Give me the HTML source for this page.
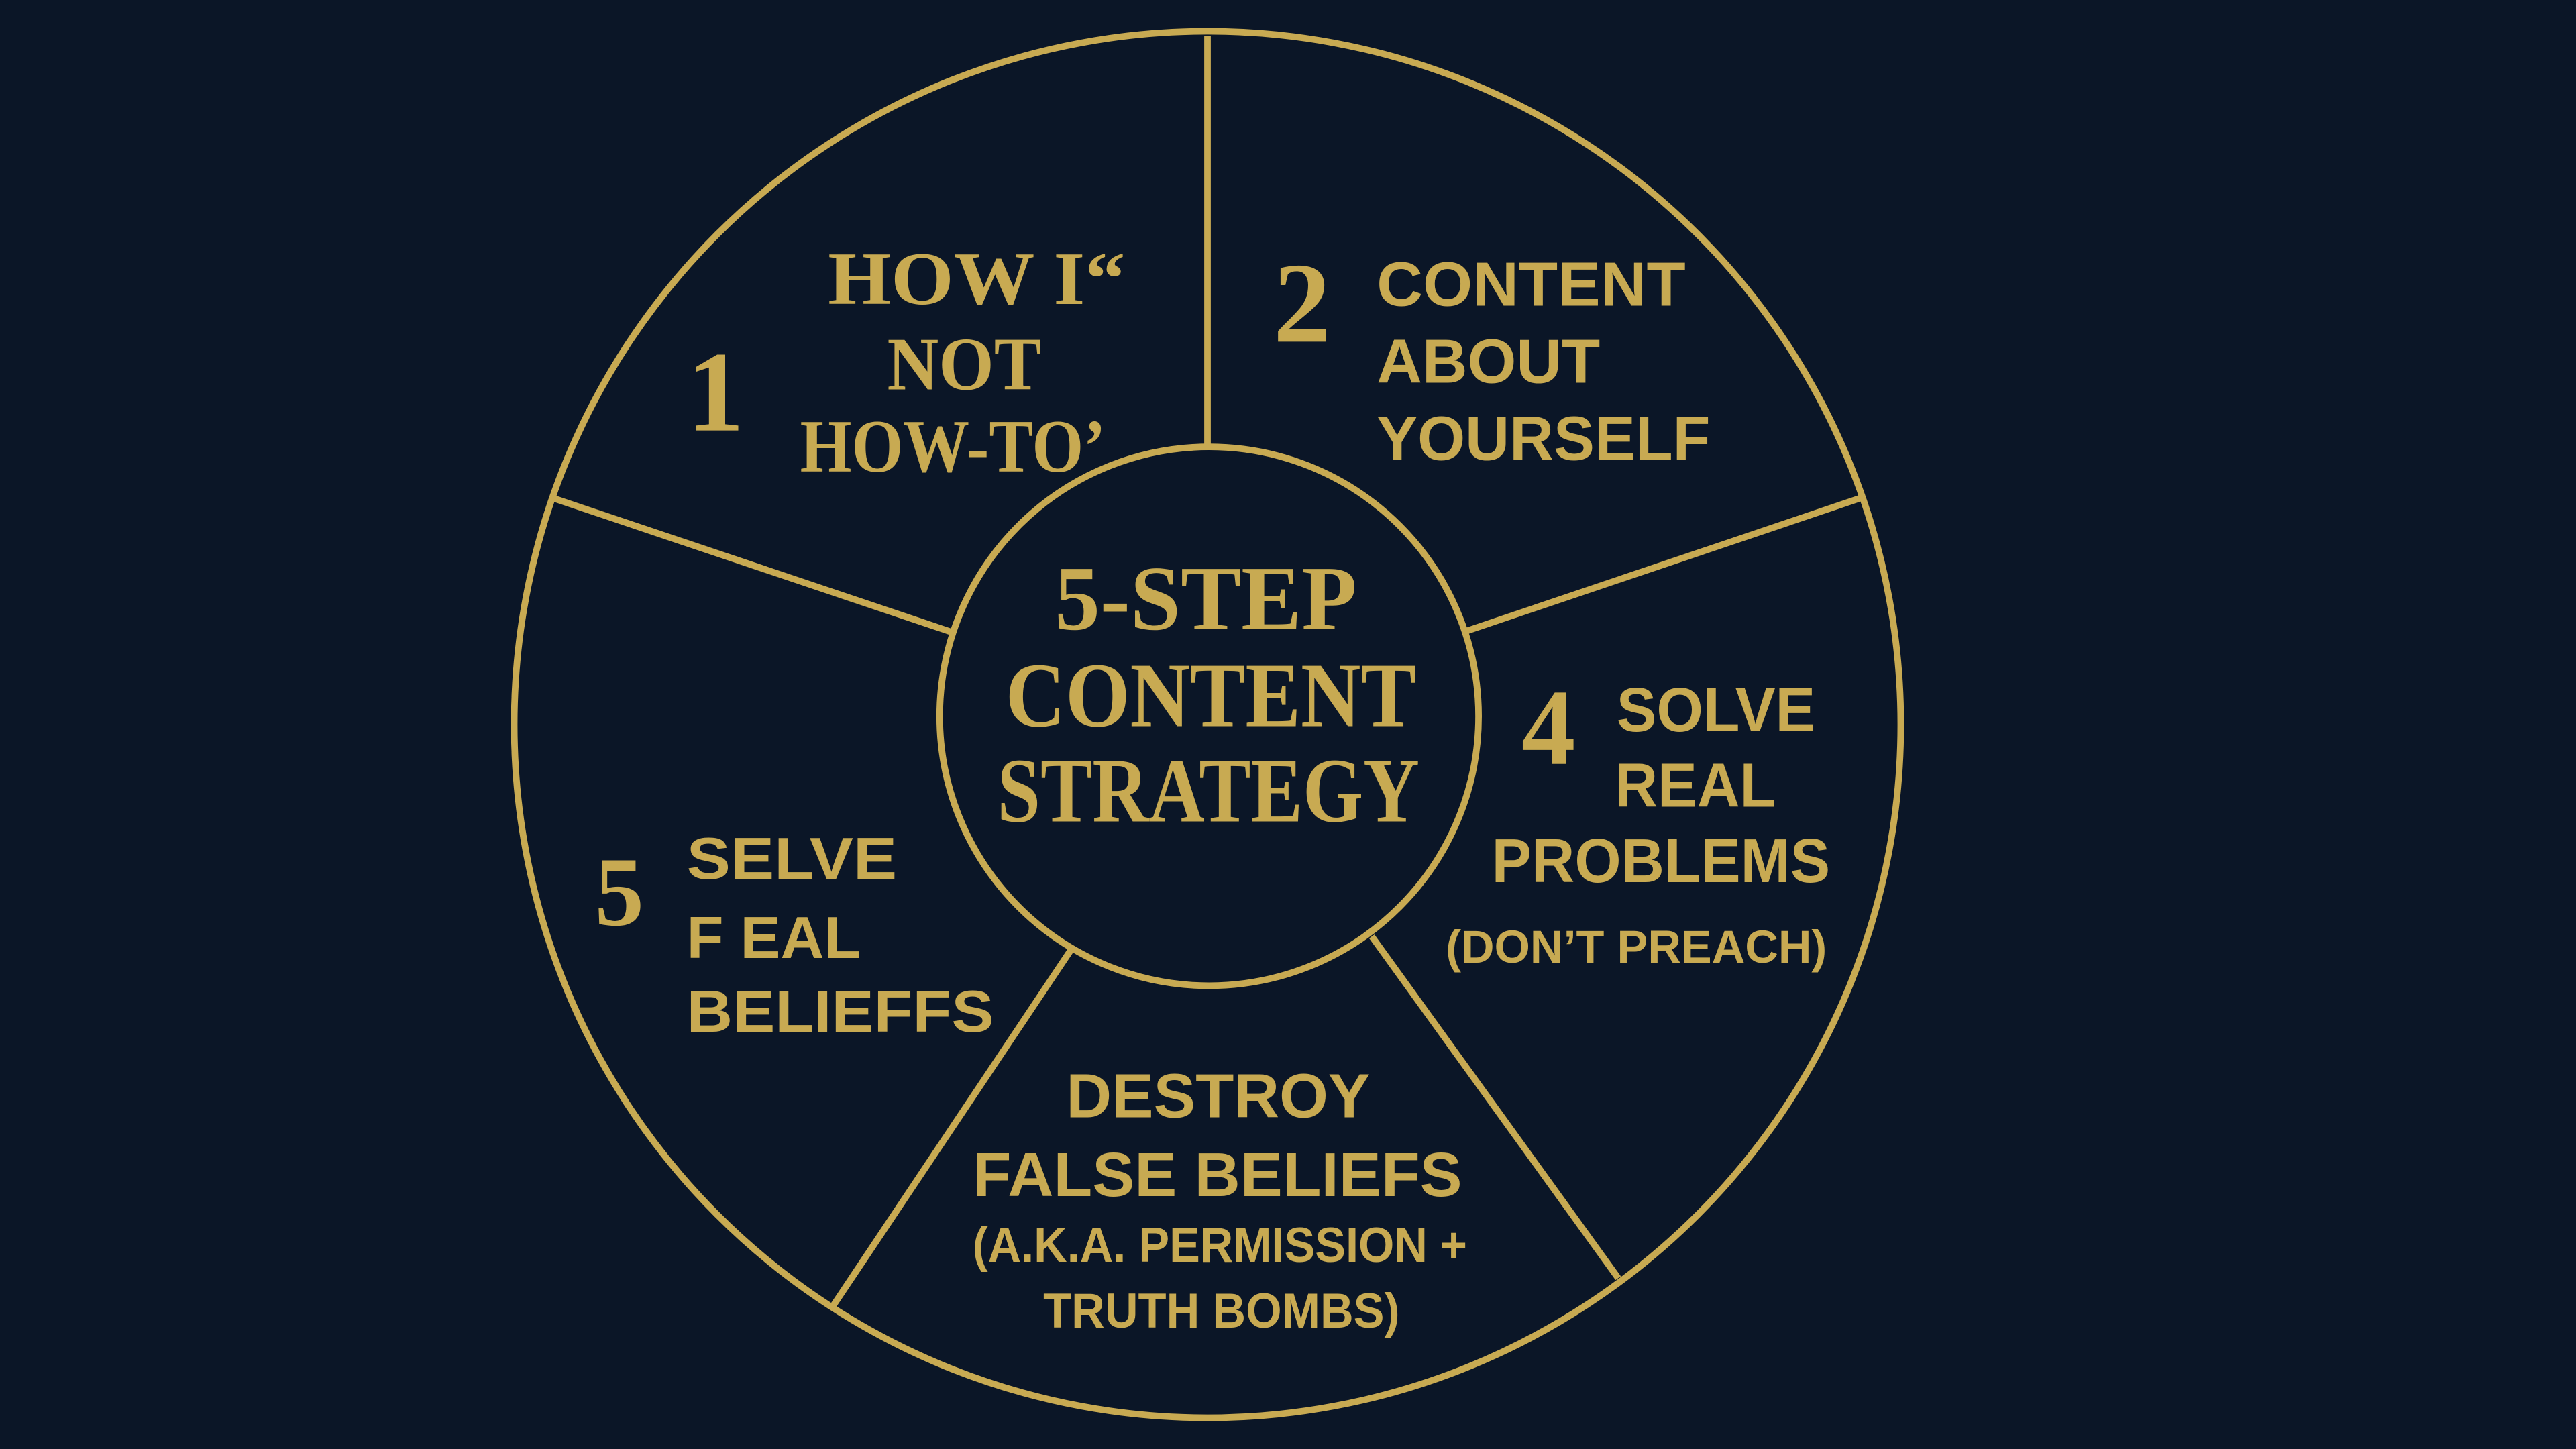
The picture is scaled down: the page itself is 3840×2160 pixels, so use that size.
<!DOCTYPE html>
<html><head><meta charset="utf-8"><style>
html,body{margin:0;padding:0;background:#0b1627;}
svg{display:block;}
.s{font-family:"Liberation Serif",serif;font-weight:bold;fill:#c8aa52;}
.a{font-family:"Liberation Sans",sans-serif;font-weight:bold;fill:#c8aa52;}
</style></head><body>
<svg width="3840" height="2160" viewBox="0 0 1568 882" xmlns="http://www.w3.org/2000/svg">
<rect width="1568" height="882" fill="#0b1627"/>
<g stroke="#c8aa52" stroke-width="4" fill="none">
<circle cx="735" cy="441" r="422"/>
<circle cx="736" cy="436" r="164"/>
<line x1="735" y1="22" x2="735" y2="272"/>
<line x1="890" y1="385" x2="1133" y2="303"/>
<line x1="580" y1="385" x2="336" y2="303"/>
<line x1="835" y1="570" x2="985" y2="778"/>
<line x1="652" y1="578" x2="507" y2="795"/>
</g>
<text class="s" x="418" y="262" font-size="70">1</text>
<text class="s" x="504" y="185" font-size="46" textLength="181" lengthAdjust="spacingAndGlyphs">HOW I“</text>
<text class="s" x="540" y="237" font-size="46" textLength="94" lengthAdjust="spacingAndGlyphs">NOT</text>
<text class="s" x="487" y="287" font-size="46" textLength="186" lengthAdjust="spacingAndGlyphs">HOW-TO’</text>
<text class="s" x="775" y="208" font-size="70">2</text>
<text class="a" x="838" y="186" font-size="38" textLength="188" lengthAdjust="spacingAndGlyphs">CONTENT</text>
<text class="a" x="838" y="233" font-size="38" textLength="136" lengthAdjust="spacingAndGlyphs">ABOUT</text>
<text class="a" x="838" y="280" font-size="38" textLength="203" lengthAdjust="spacingAndGlyphs">YOURSELF</text>
<text class="s" x="642" y="383" font-size="56" textLength="184" lengthAdjust="spacingAndGlyphs">5-STEP</text>
<text class="s" x="612" y="442" font-size="56" textLength="250" lengthAdjust="spacingAndGlyphs">CONTENT</text>
<text class="s" x="607" y="500" font-size="56" textLength="257" lengthAdjust="spacingAndGlyphs">STRATEGY</text>
<text class="s" x="926" y="465" font-size="66">4</text>
<text class="a" x="984" y="445" font-size="38" textLength="121" lengthAdjust="spacingAndGlyphs">SOLVE</text>
<text class="a" x="983" y="491" font-size="38" textLength="98" lengthAdjust="spacingAndGlyphs">REAL</text>
<text class="a" x="908" y="537" font-size="38" textLength="206" lengthAdjust="spacingAndGlyphs">PROBLEMS</text>
<text class="a" x="880" y="586" font-size="28" textLength="232" lengthAdjust="spacingAndGlyphs">(DON’T PREACH)</text>
<text class="s" x="362" y="563" font-size="60">5</text>
<text class="a" x="418" y="535" font-size="36" textLength="128" lengthAdjust="spacingAndGlyphs">SELVE</text>
<text class="a" x="418" y="583" font-size="36" textLength="106" lengthAdjust="spacingAndGlyphs">F EAL</text>
<text class="a" x="418" y="628" font-size="36" textLength="187" lengthAdjust="spacingAndGlyphs">BELIEFFS</text>
<text class="a" x="649" y="680" font-size="38" textLength="185" lengthAdjust="spacingAndGlyphs">DESTROY</text>
<text class="a" x="592" y="728" font-size="38" textLength="298" lengthAdjust="spacingAndGlyphs">FALSE BELIEFS</text>
<text class="a" x="592" y="768" font-size="30" textLength="301" lengthAdjust="spacingAndGlyphs">(A.K.A. PERMISSION +</text>
<text class="a" x="635" y="808" font-size="30" textLength="217" lengthAdjust="spacingAndGlyphs">TRUTH BOMBS)</text>
</svg>
</body></html>
